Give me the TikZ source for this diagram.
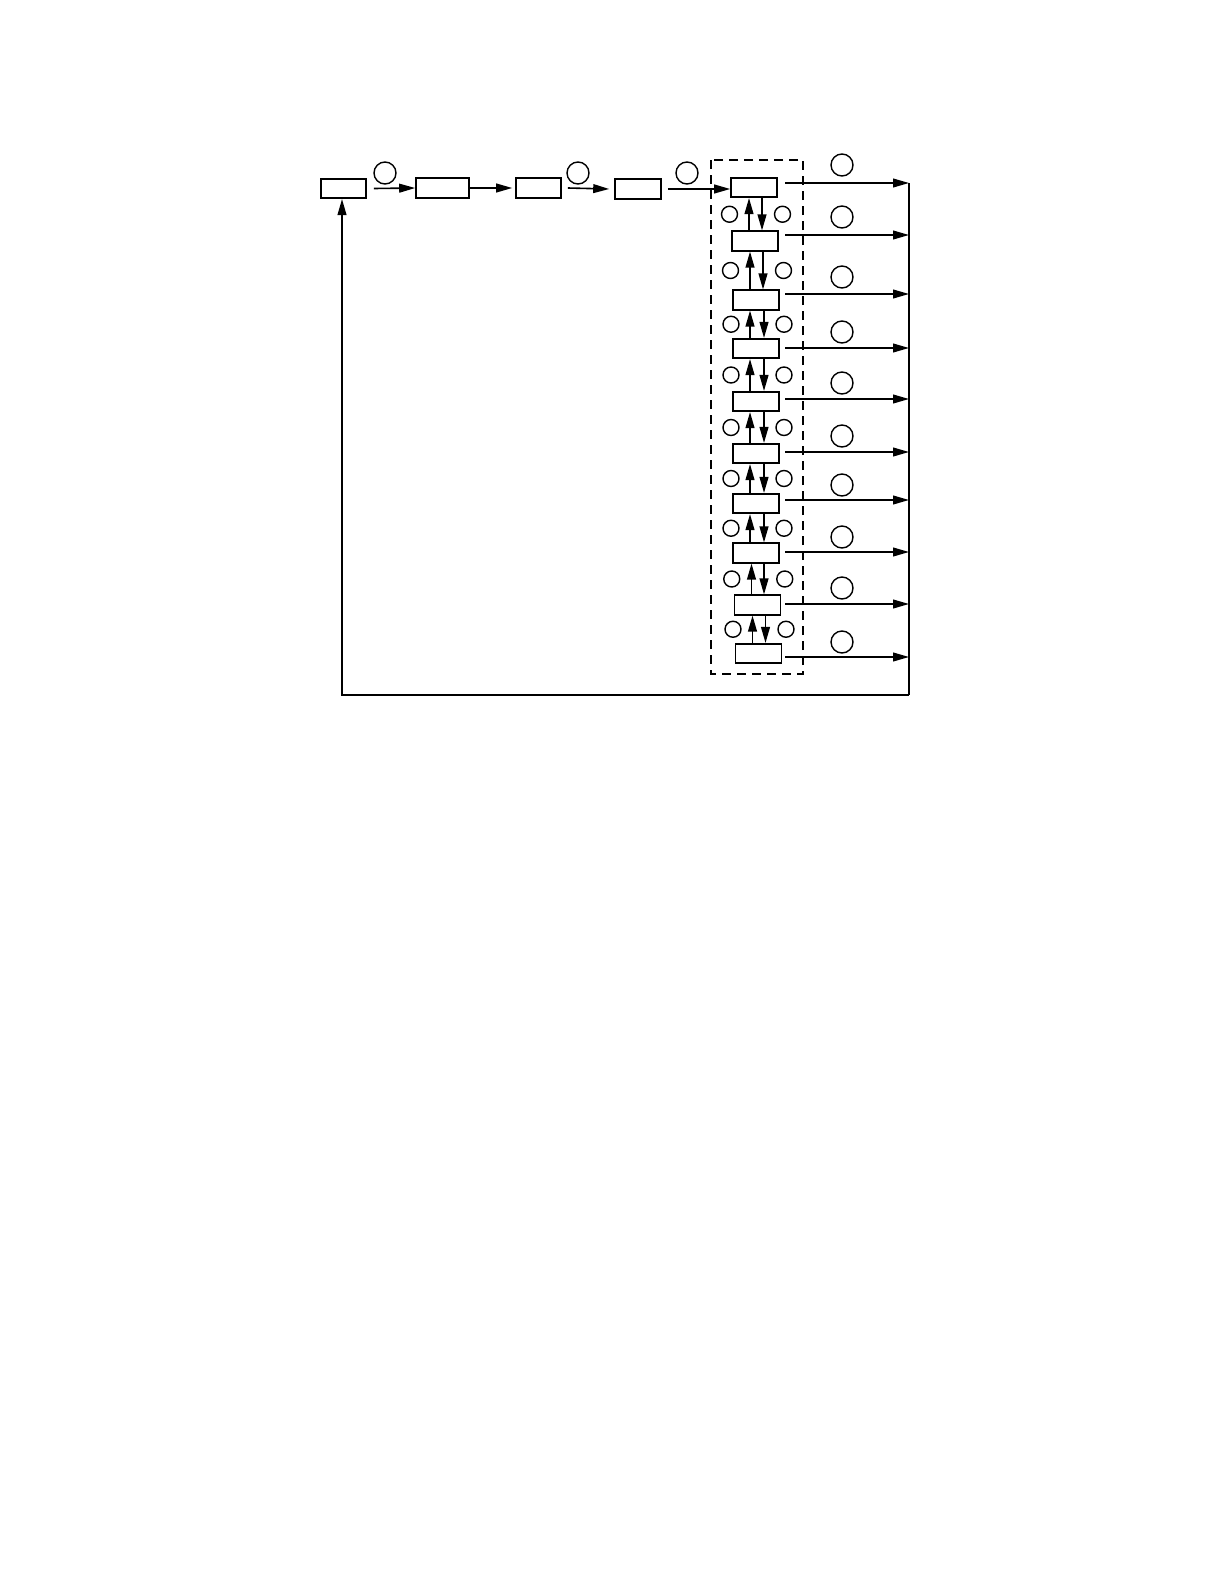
\documentclass[tikz,border=0pt]{standalone}
\usetikzlibrary{arrows.meta,calc}
\begin{document}
\begin{tikzpicture}[x=0.5pt,y=-0.5pt,
  box/.style={draw,line width=0.8pt,minimum height=9.75pt,inner sep=0pt,fill=white},
  bigc/.style={draw,circle,line width=0.7pt,minimum size=11pt,inner sep=0pt},
  smallc/.style={draw,circle,line width=0.7pt,minimum size=8pt,inner sep=0pt},
  arr/.style={line width=0.8pt,-{Triangle[length=8pt,width=4.4pt]}},
  ln/.style={line width=0.8pt}]
\useasboundingbox (0,0) rectangle (1224,1584);
% top row
\node[box,minimum width=22.5pt] (A) at (343.5,188.5) {};
\node[box,minimum width=26.5pt] (B) at (442.5,188) {};
\node[box,minimum width=22.5pt] (C) at (538.5,188) {};
\node[box,minimum width=23pt] (D) at (638,189) {};
\node[bigc] (t1) at (385,173) {};
\node[bigc] (t2) at (578,173) {};
\node[bigc] (t3) at (687,173) {};
% dashed frame
\draw[line width=0.9pt,dash pattern=on 4.5pt off 3pt] (711,160) rectangle (803,674);
% column boxes
\foreach \i/\x/\y in {1/754/187.5,2/755/241,3/756/300,4/756/348.5,5/756/401.5,6/756/453.5,7/756/503.5,8/756/553,9/757.5/605,10/758.5/653.5}{
  \node[box,minimum width=23pt] (c\i) at (\x,\y) {};
}
% connectors top row
\draw[arr] ([xshift=3.5pt]A.east) -- (B.west);
\draw[arr] (B.east) -- ([xshift=-1.5pt]C.west);
\draw[arr] ([xshift=3pt]C.east) -- ([xshift=-2.5pt]D.west);
\draw[arr] ([xshift=3pt]D.east) -- (D.east -| c1.west);
% column arrows and small circles
\foreach \i/\j in {1/2,2/3,3/4,4/5,5/6,6/7,7/8,8/9,9/10}{
  \draw[arr] ([xshift=-3pt]c\j.north) -- ([xshift=-3pt]c\j.north |- c\i.south);
  \draw[arr] ([xshift=4pt]c\i.south) -- ([xshift=4pt]c\i.south |- c\j.north);
  \node[smallc] (l\i) at ($(c\i.south)!0.5!(c\j.north)+(-25,0)$) {};
  \node[smallc] (r\i) at ($(c\i.south)!0.5!(c\j.north)+(28,0)$) {};
}
% outputs
\foreach \i/\ya/\yc in {1/183/165,2/235/217,3/294/277,4/348/332,5/399/383,6/452/436,7/500/485,8/552/537,9/604/588,10/657/642}{
  \coordinate (o\i) at (785,\ya);
  \coordinate (e\i) at (909,\ya);
  \draw[arr] (o\i) -- (e\i);
  \node[bigc] (g\i) at (842,\yc) {};
}
% feedback loop
\coordinate (rb) at (909,695);
\coordinate (lb) at (342,695);
\draw[ln] (e1) -- (rb);
\draw[arr] (rb) -- (lb) -- (lb |- A.south);
\end{tikzpicture}
\end{document}
